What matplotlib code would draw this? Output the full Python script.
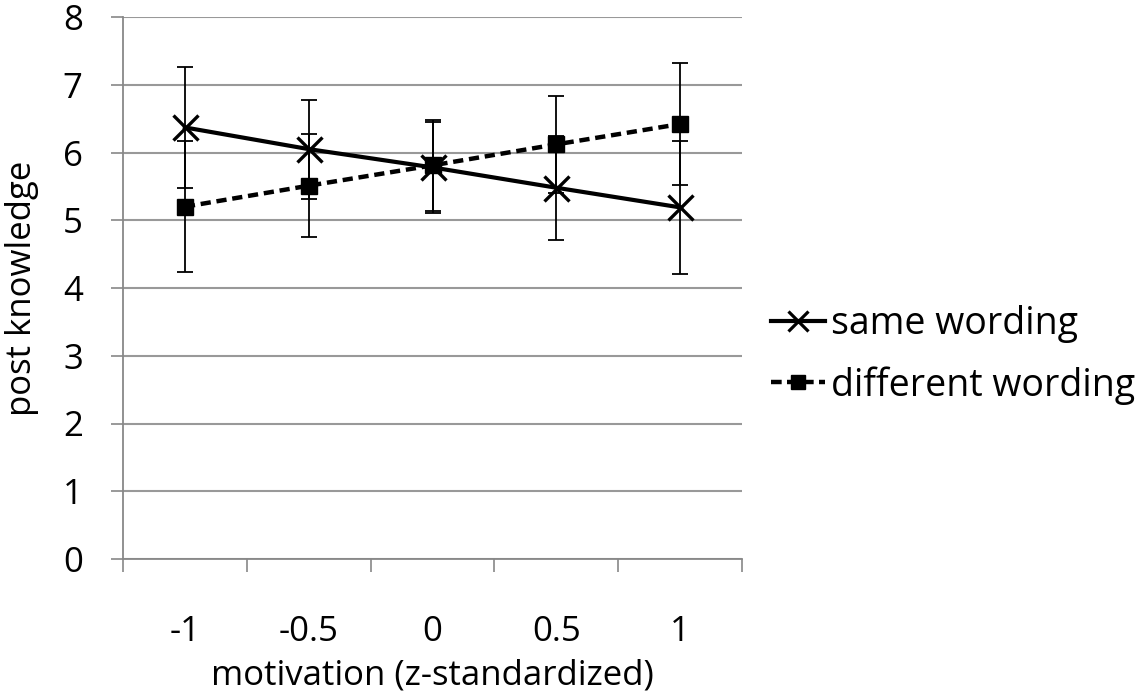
import matplotlib
matplotlib.use("Agg")
import matplotlib.pyplot as plt
from matplotlib.lines import Line2D
import numpy as np

categories = ["-1", "-0.5", "0", "0.5", "1"]
same_vals = [6.37, 6.05, 5.78, 5.48, 5.19]
same_err = [0.89, 0.73, 0.67, 0.77, 0.98]
diff_vals = [5.20, 5.51, 5.81, 6.12, 6.42]
diff_err = [0.97, 0.76, 0.67, 0.72, 0.90]
yticks = [0, 1, 2, 3, 4, 5, 6, 7, 8]

plt.rcParams['font.family'] = ['Open Sans', 'DejaVu Sans']
FS = 25

fig = plt.figure(figsize=(11.45, 6.91), dpi=100)
ax = fig.add_axes([123/1145, 1-559/691, (742-123)/1145, (559-17)/691])

x = np.arange(len(categories))

ax.errorbar(x, same_vals, yerr=same_err, fmt='none', ecolor='black',
            elinewidth=1.3, capsize=6, capthick=1.3, zorder=3)
ax.errorbar(x, diff_vals, yerr=diff_err, fmt='none', ecolor='black',
            elinewidth=1.3, capsize=6, capthick=1.3, zorder=3)
ax.plot(x, same_vals, color='black', linewidth=3, marker='x',
        markersize=18, markeredgewidth=2.4, zorder=4)
ax.plot(x, diff_vals, color='black', linewidth=3.2, linestyle=(0, (2.3, 1.3)),
        marker='s', markersize=12, zorder=4)

ax.set_xlim(-0.5, len(categories) - 0.5)
ax.set_ylim(0, 8)
ax.set_yticks(yticks)
ax.set_yticklabels([str(v) for v in yticks])
ax.set_xticks(x)
ax.set_xticklabels(categories)
ax.set_xticks(np.arange(-0.5, len(categories), 1.0), minor=True)
ax.tick_params(axis='x', which='major', length=0, pad=40, labelsize=FS)
ax.tick_params(axis='x', which='minor', length=9, width=1.2, color='#888888', direction='out')
ax.tick_params(axis='y', which='major', length=9, width=1.2, color='#888888', labelsize=FS, pad=20)

ax.grid(axis='y', color='#999999', linewidth=1.5, zorder=0)
ax.set_axisbelow(True)
for s in ['top', 'right']:
    ax.spines[s].set_visible(False)
for s in ['left', 'bottom']:
    ax.spines[s].set_color('#888888')
    ax.spines[s].set_linewidth(1.3)

ax.set_xlabel("motivation (z-standardized)", fontsize=FS, labelpad=7)
ax.set_ylabel("post knowledge", fontsize=FS, labelpad=17)

handles = [
    Line2D([0], [0], color='black', linewidth=3, marker='x', markersize=15, markeredgewidth=2.3),
    Line2D([0], [0], color='black', linewidth=3.2, linestyle=(0, (2.4, 1.2)), marker='s', markersize=10),
]
fig.legend(handles, ["same wording", "different wording"], loc='center left',
           bbox_to_anchor=(737/1145, 1-355/691), frameon=False, fontsize=27,
           handlelength=1.45, handletextpad=0.15, labelspacing=0.6)

fig.savefig("out.png", dpi=100)
